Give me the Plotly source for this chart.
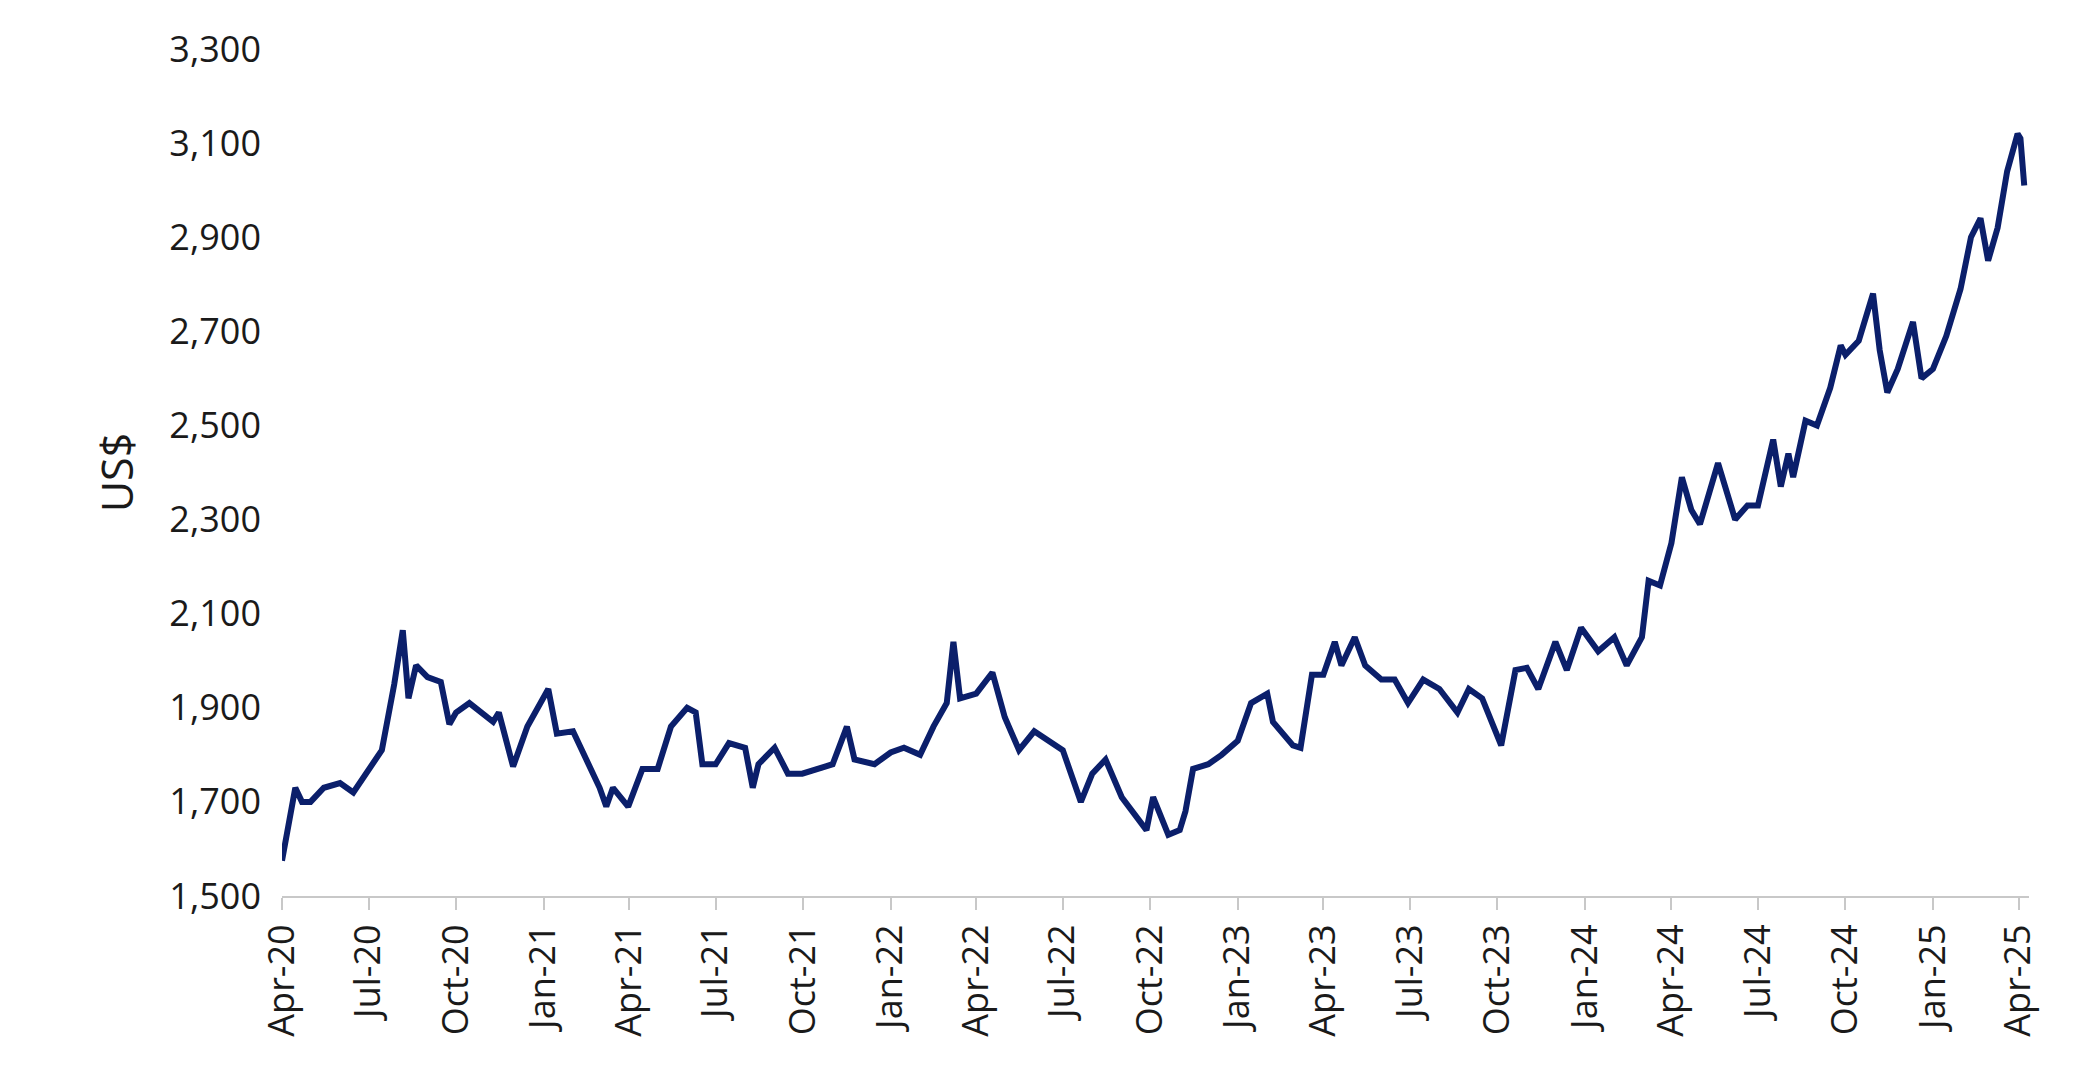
import plotly.graph_objects as go

dates = ["2020-04-01","2020-04-08","2020-04-15","2020-04-22","2020-05-01","2020-05-15","2020-06-01","2020-06-15","2020-07-01","2020-07-15","2020-07-28","2020-08-06","2020-08-12","2020-08-20","2020-09-01","2020-09-15","2020-09-24","2020-10-01","2020-10-15","2020-11-01","2020-11-09","2020-11-15","2020-11-30","2020-12-15",
"2021-01-06","2021-01-15","2021-02-01","2021-02-15","2021-03-01","2021-03-08","2021-03-15","2021-03-31","2021-04-15","2021-05-01","2021-05-15","2021-06-01","2021-06-10","2021-06-17","2021-07-01","2021-07-15","2021-08-01","2021-08-09","2021-08-15","2021-09-01","2021-09-15","2021-09-30","2021-10-15","2021-11-01","2021-11-16","2021-11-24","2021-12-15",
"2022-01-01","2022-01-15","2022-02-01","2022-02-15","2022-03-01","2022-03-08","2022-03-15","2022-04-01","2022-04-18","2022-05-01","2022-05-16","2022-06-01","2022-06-15","2022-07-01","2022-07-20","2022-08-01","2022-08-15","2022-09-01","2022-09-27","2022-10-04","2022-10-20","2022-11-01","2022-11-07","2022-11-15","2022-12-01","2022-12-15",
"2023-01-01","2023-01-15","2023-02-01","2023-02-07","2023-02-28","2023-03-08","2023-03-20","2023-04-01","2023-04-13","2023-04-20","2023-05-04","2023-05-15","2023-06-01","2023-06-15","2023-06-29","2023-07-15","2023-08-01","2023-08-20","2023-09-01","2023-09-15","2023-10-05","2023-10-20","2023-11-01","2023-11-13","2023-12-01","2023-12-13","2023-12-28",
"2024-01-15","2024-02-01","2024-02-14","2024-03-01","2024-03-08","2024-03-20","2024-04-01","2024-04-12","2024-04-22","2024-05-01","2024-05-20","2024-06-07","2024-06-20","2024-07-01","2024-07-17","2024-07-25","2024-08-02","2024-08-07","2024-08-20","2024-09-01","2024-09-15","2024-09-26","2024-10-01","2024-10-15","2024-10-30","2024-11-06","2024-11-14","2024-11-25","2024-12-11","2024-12-20",
"2025-01-01","2025-01-15","2025-01-30","2025-02-10","2025-02-20","2025-02-28","2025-03-10","2025-03-20","2025-03-31","2025-04-03","2025-04-07"]
prices = [1575,1650,1730,1700,1700,1730,1740,1720,1770,1810,1950,2065,1920,1990,1965,1955,1865,1890,1910,1880,1870,1890,1775,1860,
1940,1845,1850,1790,1730,1690,1730,1690,1770,1770,1860,1900,1890,1780,1780,1825,1815,1730,1780,1815,1760,1760,1770,1780,1860,1790,1780,
1805,1815,1800,1860,1910,2040,1920,1930,1975,1880,1810,1850,1830,1810,1700,1760,1790,1710,1640,1710,1630,1640,1680,1770,1780,1800,
1830,1910,1930,1870,1820,1815,1970,1970,2040,1990,2050,1990,1960,1960,1910,1960,1940,1890,1940,1920,1820,1980,1985,1940,2040,1980,2070,
2020,2050,1990,2050,2170,2160,2250,2390,2320,2290,2420,2300,2330,2330,2470,2370,2440,2390,2510,2500,2580,2670,2650,2680,2780,2660,2570,2620,2720,2600,
2620,2690,2790,2900,2940,2850,2920,3040,3120,3110,3010]

tickvals = ["2020-04-01","2020-07-01","2020-10-01","2021-01-01","2021-04-01","2021-07-01","2021-10-01","2022-01-01","2022-04-01","2022-07-01","2022-10-01","2023-01-01","2023-04-01","2023-07-01","2023-10-01","2024-01-01","2024-04-01","2024-07-01","2024-10-01","2025-01-01","2025-04-01"]
ticktext = ["Apr-20","Jul-20","Oct-20","Jan-21","Apr-21","Jul-21","Oct-21","Jan-22","Apr-22","Jul-22","Oct-22","Jan-23","Apr-23","Jul-23","Oct-23","Jan-24","Apr-24","Jul-24","Oct-24","Jan-25","Apr-25"]
yticks = [1500,1700,1900,2100,2300,2500,2700,2900,3100,3300]

fig = go.Figure(go.Scatter(x=dates, y=prices, mode="lines",
                           line=dict(color="#0b1f6b", width=6), hoverinfo="skip"))
fig.update_layout(
    width=2073, height=1080, paper_bgcolor="white", plot_bgcolor="white",
    margin=dict(l=274, r=52, t=41, b=192), showlegend=False,
    font=dict(family="Open Sans", size=36, color="#1a1a1a"),
)
fig.update_xaxes(type="date", range=["2020-04-01","2025-04-12"], tickvals=tickvals, ticktext=ticktext,
                 tickangle=-90, showgrid=False, showline=True, linecolor="#c8c8c8", linewidth=2,
                 ticks="outside", tickcolor="#c8c8c8", ticklen=12, tickwidth=2)
fig.update_yaxes(range=[1500,3300], tickvals=yticks, tickformat=",", showgrid=False, zeroline=False,
                 title=dict(text="US$", standoff=22), ticks="", ticklabelstandoff=20)
fig.write_html("out.html")
